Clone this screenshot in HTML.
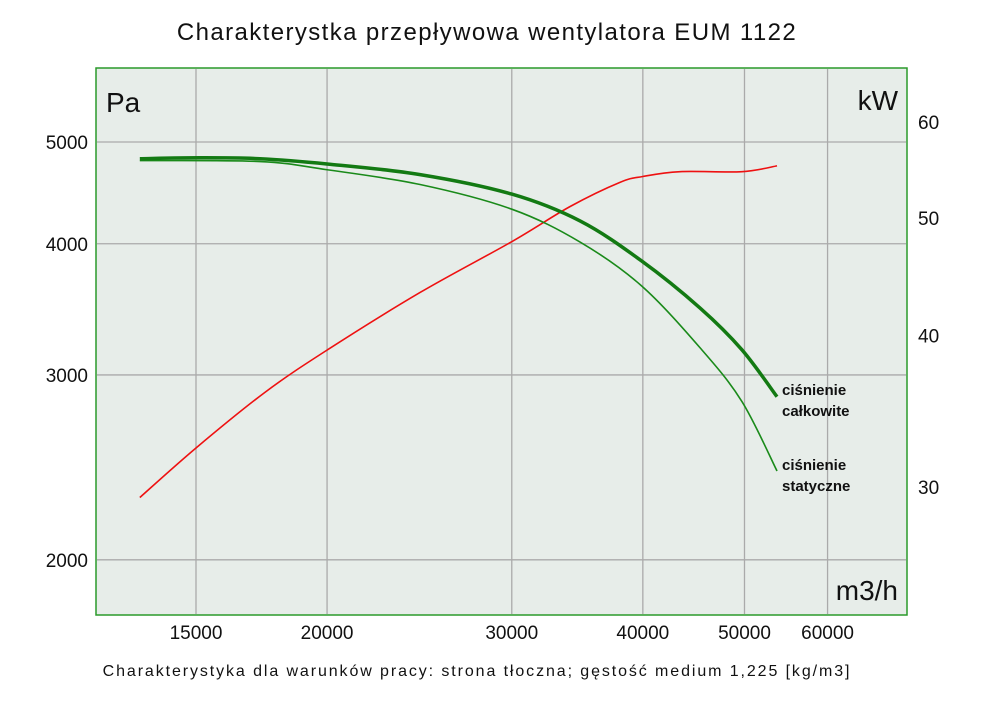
<!DOCTYPE html>
<html><head><meta charset="utf-8"><style>
body{margin:0;background:#fff;}
svg text{font-family:"Liberation Sans","DejaVu Sans",sans-serif;}
</style></head><body>
<svg id="chart" width="1000" height="706" viewBox="0 0 1000 706" xmlns="http://www.w3.org/2000/svg">
<text x="487" y="40" font-size="24" text-anchor="middle" fill="#111" letter-spacing="1.4">Charakterystka przepływowa wentylatora EUM 1122</text>
<rect x="96" y="68" width="811" height="547" fill="#e7ede9" stroke="#2a9a2a" stroke-width="1.5"/>
<g id="grid"></g>
<g id="ticks"></g>
<g id="series"></g>
<text x="106" y="112" font-size="28" fill="#111">Pa</text>
<text x="898" y="110" font-size="28" fill="#111" text-anchor="end">kW</text>
<text x="898" y="600" font-size="28" fill="#111" text-anchor="end">m3/h</text>
<text font-size="15" font-weight="bold" fill="#111"><tspan x="782" y="395">ciśnienie</tspan><tspan x="782" y="416">całkowite</tspan></text>
<text font-size="15" font-weight="bold" fill="#111"><tspan x="782" y="470">ciśnienie</tspan><tspan x="782" y="491">statyczne</tspan></text>
<text x="477" y="676" font-size="16" text-anchor="middle" fill="#111" letter-spacing="1.9">Charakterystyka dla warunków pracy: strona tłoczna; gęstość medium 1,225 [kg/m3]</text>
</svg>
<script>
const xTicks=[15000,20000,30000,40000,50000,60000];
const yLeftTicks=[5000,4000,3000,2000];
const yRightTicks=[60,50,40,30];
const flowTotal=[13260,15130,17260,20000,24530,30000,34850,39850,45340,49720,53700];
const pTotal=[4820,4830,4820,4765,4655,4460,4205,3855,3475,3170,2860];
const flowStatic=[13260,17260,20000,24530,30000,34850,39850,45340,49720,53700];
const pStatic=[4800,4790,4705,4555,4315,4015,3650,3185,2830,2430];
const flowPower=[13260,15000,17450,20000,24530,30000,34100,38040,40000,43400,49720,53700];
const power=[29.4,32.3,35.9,38.9,43.4,47.8,51.1,53.5,54.1,54.6,54.6,55.2];
const X=v=>196+1049*Math.log10(v/15000);
const YL=v=>142-1050*Math.log10(v/5000);
const YR=v=>122-1212*Math.log10(v/60);
const NS='http://www.w3.org/2000/svg';
function mk(t,a,p){const e=document.createElementNS(NS,t);for(const k in a)e.setAttribute(k,a[k]);p.appendChild(e);return e;}
const grid=document.getElementById('grid'),ticks=document.getElementById('ticks'),series=document.getElementById('series');
xTicks.forEach(v=>{
 const l=mk('line',{x1:X(v),x2:X(v),y1:69,y2:614,stroke:'#aaa','stroke-width':1.3},grid);
 
 
 const t=mk('text',{x:X(v),y:639,'font-size':19,'text-anchor':'middle',fill:'#111'},ticks);t.textContent=v;
 
 
});
yLeftTicks.forEach(v=>{
 const l=mk('line',{x1:97,x2:906,y1:YL(v),y2:YL(v),stroke:'#aaa','stroke-width':1.3},grid);
 
 
 const t=mk('text',{x:88,y:YL(v)+7,'font-size':19,'text-anchor':'end',fill:'#111'},ticks);t.textContent=v;
 
 
});
yRightTicks.forEach(v=>{
 const t=mk('text',{x:918,y:YR(v)+7,'font-size':19,fill:'#111'},ticks);t.textContent=v;
 
 
});
function path(xs,ys,fy){
 const pts=xs.map((x,i)=>[X(x),fy(ys[i])]);
 let d='M'+pts[0][0]+','+pts[0][1];
 for(let i=0;i<pts.length-1;i++){
  const p0=pts[i-1]||pts[i],p1=pts[i],p2=pts[i+1],p3=pts[i+2]||p2;
  d+=' C'+(p1[0]+(p2[0]-p0[0])/6)+','+(p1[1]+(p2[1]-p0[1])/6)+' '+(p2[0]-(p3[0]-p1[0])/6)+','+(p2[1]-(p3[1]-p1[1])/6)+' '+p2[0]+','+p2[1];
 }
 return d;
}
const pw=mk('path',{d:path(flowPower,power,YR),fill:'none',stroke:'#ee1111','stroke-width':1.6},series);


const st=mk('path',{d:path(flowStatic,pStatic,YL),fill:'none',stroke:'#1a8a1a','stroke-width':1.6},series);


const tt=mk('path',{d:path(flowTotal,pTotal,YL),fill:'none',stroke:'#137a13','stroke-width':3.5},series);


</script>
</body></html>
